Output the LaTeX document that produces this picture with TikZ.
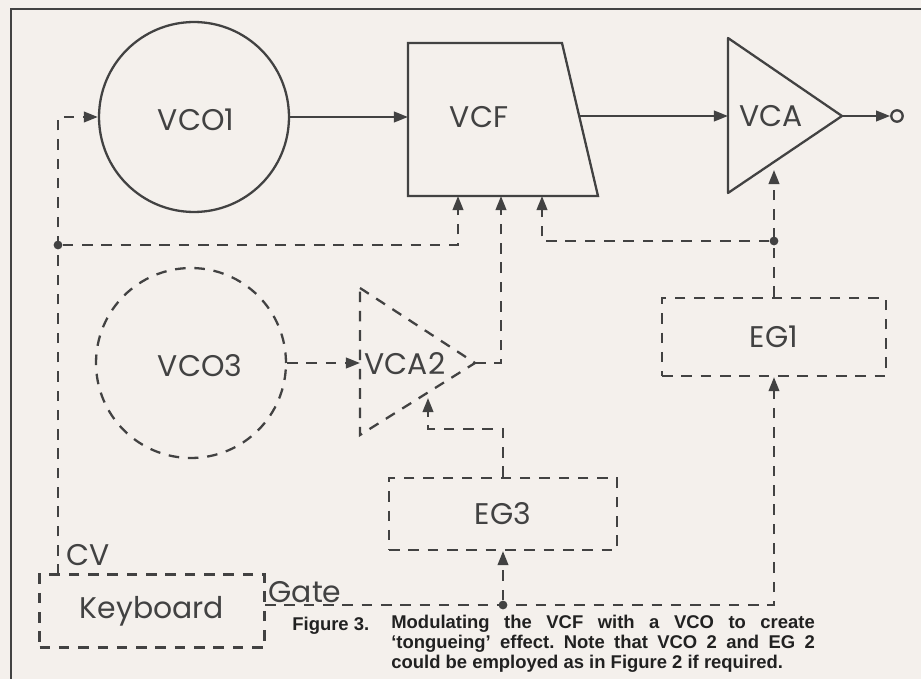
\documentclass[tikz,border=0pt]{standalone}
\usepackage{fontspec}
\setmainfont{Poppins}
\newfontfamily\captionfont{Liberation Sans}
\usetikzlibrary{arrows.meta}

\definecolor{paper}{RGB}{244,240,236}
\definecolor{ink}{RGB}{66,66,66}

\tikzset{
  sig/.style={ink, line width=1.3pt, -{Triangle[length=8pt, width=6pt]}},
  cv/.style={sig, dash pattern=on 6pt off 5pt},
  solidpart/.style={draw=ink, line width=1.3pt},
  dashpart/.style={draw=ink, line width=1.3pt, dash pattern=on 6pt off 5pt},
  lbl/.style={text=ink, font=\fontsize{17}{17}\selectfont},
  junction/.style={circle, fill=ink, inner sep=0pt, minimum size=5pt},
  caption/.style={text=ink!50!black, inner sep=0pt,
    font=\captionfont\bfseries\fontsize{10.5}{11.3}\selectfont\frenchspacing},
}

\begin{document}
\begin{tikzpicture}[x=0.02cm, y=-0.02cm]
  % Paper and frame
  \fill[paper] (0,0) rectangle (921,679);
  \useasboundingbox (0,0) rectangle (921,679);
  \draw[ink, line width=1.3pt] (11,679) -- (11,9) -- (921,9);

  % Audio path
  \node[circle, solidpart, minimum size=3.8cm] (vco1) at (194,117) {};
  \node[lbl] (vco1-lbl) at (196,120) {VCO1};
  \draw[solidpart] (408,43) -- (562,43) -- (598,196) -- (408,196) -- cycle;
  \node[lbl] (vcf) at (479,117) {VCF};
  \draw[solidpart, line join=round] (728,38) -- (842,116) -- (728,193) -- cycle;
  \node[lbl] (vca) at (771,116) {VCA};
  \node[circle, solidpart, inner sep=0pt, minimum size=6.5pt] (out) at (897,116) {};

  % Ports
  \coordinate (vcf-in) at (408,117);
  \coordinate (vcf-out) at (579,116);
  \coordinate (vcf-cv1) at (458,196);
  \coordinate (vcf-cv2) at (501,196);
  \coordinate (vcf-cv3) at (542,196);
  \coordinate (vca-in) at (728,116);
  \coordinate (vca-out) at (842,116);
  \coordinate (vca-cv) at (774,170);

  \draw[sig] (vco1.east) -- (vcf-in);
  \draw[sig] (vcf-out) -- (vca-in);
  \draw[sig] (vca-out) -- (out.west);

  % Modulation path
  \node[circle, dashpart, minimum size=3.8cm] (vco3) at (191,363) {};
  \node[lbl] (vco3-lbl) at (200,366) {VCO3};
  \draw[dashpart] (360,288) -- (475,363) -- (360,435) -- cycle;
  \node[lbl] (vca2) at (405,364) {VCA2};
  \coordinate (vca2-in) at (360,363);
  \coordinate (vca2-out) at (475,363);
  \coordinate (vca2-cv) at (428,398);
  \coordinate (eg3-bend) at (428,429);
  \node[dashpart, minimum width=4.56cm, minimum height=1.44cm, lbl] (eg3) at (503,514) {EG3};
  \node[dashpart, minimum width=4.48cm, minimum height=1.56cm, lbl] (eg1) at (774,337) {EG1};
  \node[dashpart, minimum width=4.5cm, minimum height=1.46cm, lbl] (kbd) at (152,611) {Keyboard};

  % CV and gate wiring
  \coordinate (kbd-cv) at (58,575);
  \coordinate (kbd-gate) at (265,605);
  \node[junction] (cv-dot) at (58,245) {};
  \node[junction] (eg1-dot) at (774,241) {};
  \node[junction] (gate-dot) at (503,605) {};

  \draw[cv] (kbd-cv) |- (vco1.west);
  \draw[cv] (cv-dot) -| (vcf-cv1);
  \draw[cv] (vco3.east) -- (vca2-in);
  \draw[cv] (vca2-out) -| (vcf-cv2);
  \draw[cv] (eg3.north) |- (eg3-bend) -- (vca2-cv);
  \draw[cv] (eg1.north) -- (vca-cv);
  \draw[cv] (eg1-dot) -| (vcf-cv3);
  \draw[cv] (kbd-gate) -| (eg1.south);
  \draw[cv] (gate-dot) -- (eg3.south);

  \node[lbl] (cv-lbl) at (88,555) {CV};
  \node[lbl] (gate-lbl) at (305,592) {Gate};

  % Caption
  \node[caption, anchor=base west] (fig) at (292,630) {Figure 3.};
  \node[caption, anchor=base west] (cap1) at (391,628)
    {\makebox[241pt][s]{Modulating the VCF with a VCO to create}};
  \node[caption, anchor=base west] (cap2) at (391,648)
    {\makebox[241pt][s]{‘tongueing’ effect. Note that VCO 2 and EG 2}};
  \node[caption, anchor=base west] (cap3) at (391,668)
    {could be employed as in Figure 2 if required.};
\end{tikzpicture}
\end{document}
